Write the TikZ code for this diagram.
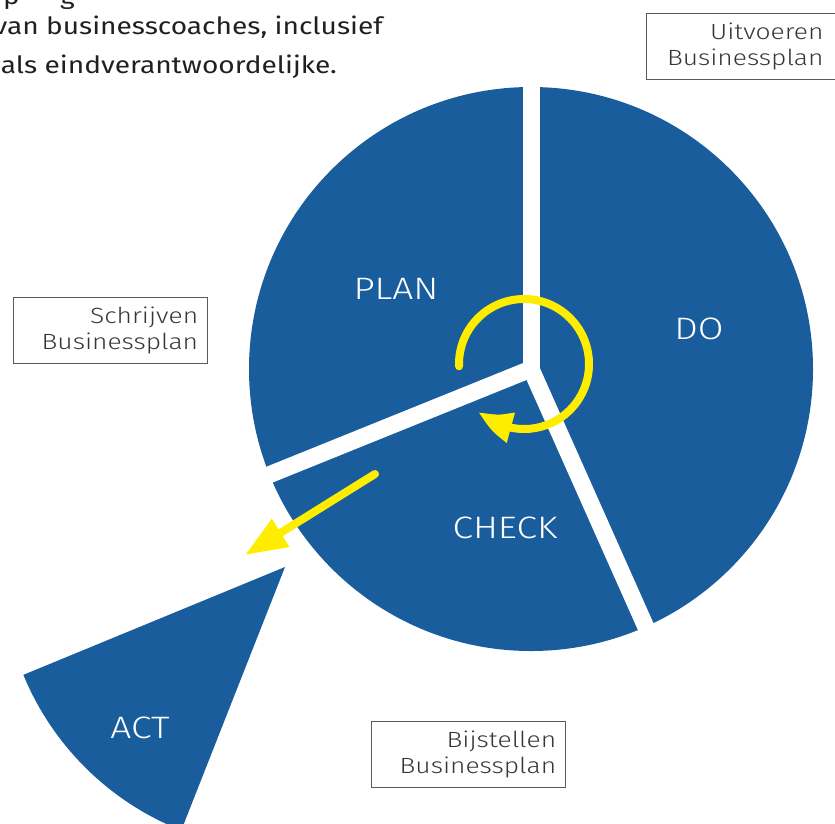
\documentclass[tikz,border=0pt]{standalone}
\usepackage{fontspec}
\setmainfont{Fira Sans}[FakeStretch=1.18]
\newfontfamily\lightfont{Fira Sans Light}[FakeStretch=1.2]
\usetikzlibrary{arrows.meta,bending}
\definecolor{pdcablue}{RGB}{25,93,156}
\definecolor{pdcayellow}{RGB}{255,237,0}
\definecolor{txtgray}{RGB}{35,31,32}
\definecolor{boxgray}{RGB}{90,90,90}
\tikzset{
  segtext/.style={text=white, font=\lightfont\fontsize{31}{31}\selectfont, inner sep=0pt},
  phasebox/.style={draw=boxgray, line width=0.9pt, text=txtgray!90, align=right,
    text width=176pt, inner xsep=9pt, inner ysep=0pt, minimum height=66pt,
    font=\lightfont\fontsize{22}{26.5}\selectfont},
  introtext/.style={text=txtgray, font=\fontsize{23.8}{28}\selectfont, inner sep=0pt},
  yarrow/.style={draw=pdcayellow, line width=8pt, line cap=round},
  gap/.style={draw=white, line width=17pt}
}
\begin{document}
\begin{tikzpicture}[x=1pt,y=1pt]
\useasboundingbox (0,0) rectangle (835,-823);
% pie
\coordinate (C) at (531,-369);
\fill[pdcablue] (C) circle (282);
\draw[gap] (C) -- ++(90:300) coordinate (g1);
\draw[gap] (C) -- ++(202:300) coordinate (g2);
\draw[gap] (C) -- ++(294:300) coordinate (g3);
\fill[white] (C) circle (8.5);
% ACT sector
\coordinate (A) at (285,-567);
\fill[pdcablue] (A) -- ++(202.4:283) arc[start angle=202.4, end angle=248.5, radius=283] -- cycle;
% labels in segments
\node[segtext] (plan) at (396,-289) {PLAN};
\node[segtext] (do) at (699,-329) {DO};
\node[segtext] (check) at (505,-528) {CHECK};
\node[segtext] (act) at (140,-728) {ACT};
% yellow loop arrow
\coordinate (L) at (524,-364);
\draw[yarrow, -{Triangle[length=37pt,width=29pt,bend]}] ([shift={(182:65)}]L) arc[start angle=182, end angle=-134, radius=65];
% straight yellow arrow
\coordinate (s1) at (375,-474);
\coordinate (t1) at (245,-555);
\draw[yarrow, -{Triangle[length=42pt,width=31pt]}] (s1) -- (t1);
% phase boxes
\node[phasebox, anchor=north west, text width=160pt, inner xsep=17pt] (uit) at (646,-13) {Uitvoeren\\Businessplan};
\node[phasebox, anchor=north west] (schr) at (12.7,-297) {Schrijven\\Businessplan};
\node[phasebox, anchor=north west] (bijst) at (370.7,-721) {Bijstellen\\Businessplan};
% intro text (clipped at the page edge)
\node[introtext, anchor=base west] (frag1) at (3,-4) {p};
\node[introtext, anchor=base west] (frag2) at (60,-4) {g};
\node[introtext, anchor=base east] (intro1) at (383,-34.5) {van businesscoaches, inclusief};
\node[introtext, anchor=base east] (intro2) at (337,-73) {als eindverantwoordelijke.};
\end{tikzpicture}
\end{document}
